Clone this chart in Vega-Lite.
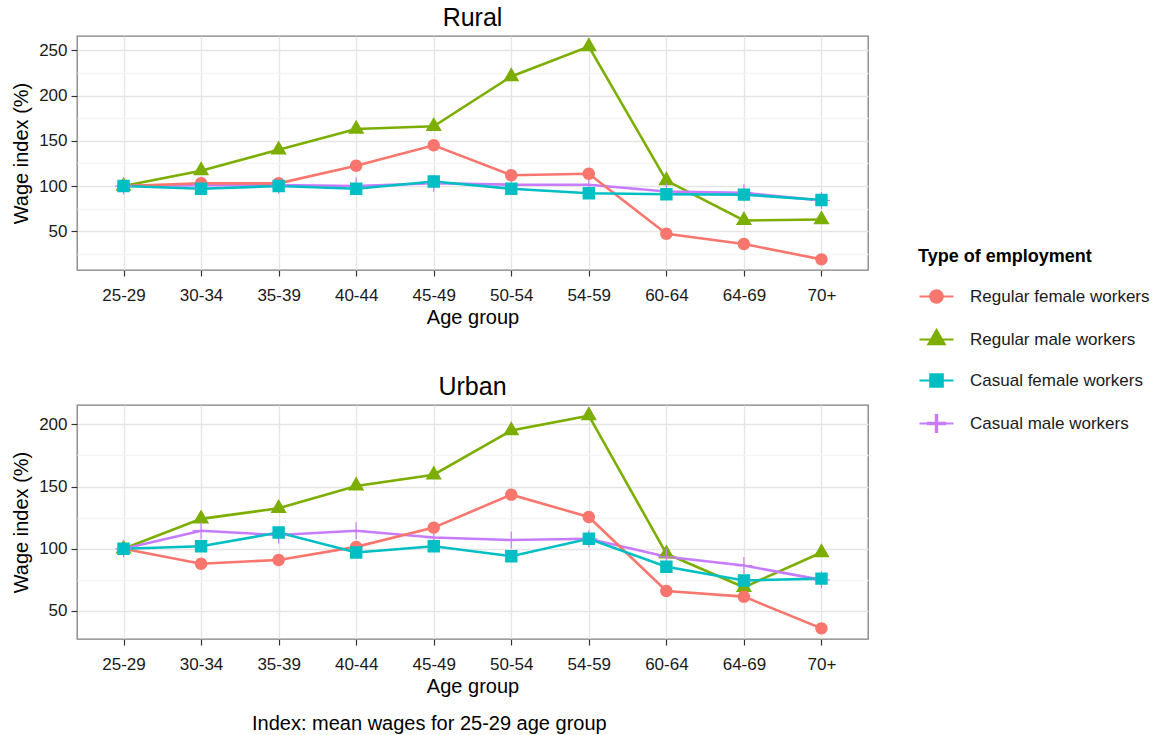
{
  "$schema": "https://vega.github.io/schema/vega-lite/v6.json",
  "padding": {"left": 10, "top": 5, "right": 5, "bottom": 5},
  "background": "white",
  "title": {"text": "Index: mean wages for 25-29 age group", "orient": "bottom", "anchor": "start", "frame": "group", "dx": 175, "offset": 17, "fontSize": 20, "fontWeight": "normal", "color": "#000000"},
  "config": {
    "font": "Liberation Sans",
    "view": {"stroke": "#7f7f7f", "strokeWidth": 1.3},
    "axis": {"domain": false, "grid": true, "gridColor": "#e5e5e5", "gridWidth": 1.3, "tickColor": "#333333", "tickSize": 6, "tickWidth": 1.2, "labelFontSize": 17, "labelColor": "#1a1a1a", "titleFontSize": 20, "titleFontWeight": "normal", "titleColor": "#000000", "labelFont": "Liberation Sans", "titleFont": "Liberation Sans"},
    "title": {"fontSize": 25, "fontWeight": "normal", "offset": 5, "color": "#000000", "anchor": "middle"},
    "legend": {"titleFontSize": 18, "titleFontWeight": "bold", "labelFontSize": 17, "labelColor": "#1a1a1a", "titleColor": "#000000", "labelLimit": 400, "symbolStrokeWidth": 2.2, "symbolOpacity": 1}
  },
  "data": {"values": [
    {"area": "Rural", "type": "Regular male workers", "age": "25-29", "v": 100},
    {"area": "Rural", "type": "Regular male workers", "age": "30-34", "v": 117},
    {"area": "Rural", "type": "Regular male workers", "age": "35-39", "v": 140},
    {"area": "Rural", "type": "Regular male workers", "age": "40-44", "v": 163},
    {"area": "Rural", "type": "Regular male workers", "age": "45-49", "v": 166},
    {"area": "Rural", "type": "Regular male workers", "age": "50-54", "v": 221},
    {"area": "Rural", "type": "Regular male workers", "age": "54-59", "v": 254},
    {"area": "Rural", "type": "Regular male workers", "age": "60-64", "v": 106},
    {"area": "Rural", "type": "Regular male workers", "age": "64-69", "v": 62},
    {"area": "Rural", "type": "Regular male workers", "age": "70+", "v": 63},
    {"area": "Rural", "type": "Casual male workers", "age": "25-29", "v": 100},
    {"area": "Rural", "type": "Casual male workers", "age": "30-34", "v": 101},
    {"area": "Rural", "type": "Casual male workers", "age": "35-39", "v": 101},
    {"area": "Rural", "type": "Casual male workers", "age": "40-44", "v": 100},
    {"area": "Rural", "type": "Casual male workers", "age": "45-49", "v": 103},
    {"area": "Rural", "type": "Casual male workers", "age": "50-54", "v": 101.5},
    {"area": "Rural", "type": "Casual male workers", "age": "54-59", "v": 101.5},
    {"area": "Rural", "type": "Casual male workers", "age": "60-64", "v": 94},
    {"area": "Rural", "type": "Casual male workers", "age": "64-69", "v": 92.5},
    {"area": "Rural", "type": "Casual male workers", "age": "70+", "v": 84},
    {"area": "Rural", "type": "Regular female workers", "age": "25-29", "v": 100},
    {"area": "Rural", "type": "Regular female workers", "age": "30-34", "v": 103},
    {"area": "Rural", "type": "Regular female workers", "age": "35-39", "v": 103},
    {"area": "Rural", "type": "Regular female workers", "age": "40-44", "v": 122.5},
    {"area": "Rural", "type": "Regular female workers", "age": "45-49", "v": 145},
    {"area": "Rural", "type": "Regular female workers", "age": "50-54", "v": 112},
    {"area": "Rural", "type": "Regular female workers", "age": "54-59", "v": 113.5},
    {"area": "Rural", "type": "Regular female workers", "age": "60-64", "v": 47.3},
    {"area": "Rural", "type": "Regular female workers", "age": "64-69", "v": 36},
    {"area": "Rural", "type": "Regular female workers", "age": "70+", "v": 19},
    {"area": "Rural", "type": "Casual female workers", "age": "25-29", "v": 100},
    {"area": "Rural", "type": "Casual female workers", "age": "30-34", "v": 97},
    {"area": "Rural", "type": "Casual female workers", "age": "35-39", "v": 100},
    {"area": "Rural", "type": "Casual female workers", "age": "40-44", "v": 97},
    {"area": "Rural", "type": "Casual female workers", "age": "45-49", "v": 105},
    {"area": "Rural", "type": "Casual female workers", "age": "50-54", "v": 97},
    {"area": "Rural", "type": "Casual female workers", "age": "54-59", "v": 92},
    {"area": "Rural", "type": "Casual female workers", "age": "60-64", "v": 91},
    {"area": "Rural", "type": "Casual female workers", "age": "64-69", "v": 90.5},
    {"area": "Rural", "type": "Casual female workers", "age": "70+", "v": 84.5},
    {"area": "Urban", "type": "Regular male workers", "age": "25-29", "v": 100},
    {"area": "Urban", "type": "Regular male workers", "age": "30-34", "v": 124},
    {"area": "Urban", "type": "Regular male workers", "age": "35-39", "v": 132.5},
    {"area": "Urban", "type": "Regular male workers", "age": "40-44", "v": 150.5},
    {"area": "Urban", "type": "Regular male workers", "age": "45-49", "v": 159.5},
    {"area": "Urban", "type": "Regular male workers", "age": "50-54", "v": 195},
    {"area": "Urban", "type": "Regular male workers", "age": "54-59", "v": 207},
    {"area": "Urban", "type": "Regular male workers", "age": "60-64", "v": 96},
    {"area": "Urban", "type": "Regular male workers", "age": "64-69", "v": 69},
    {"area": "Urban", "type": "Regular male workers", "age": "70+", "v": 97},
    {"area": "Urban", "type": "Casual male workers", "age": "25-29", "v": 100},
    {"area": "Urban", "type": "Casual male workers", "age": "30-34", "v": 114.5},
    {"area": "Urban", "type": "Casual male workers", "age": "35-39", "v": 111},
    {"area": "Urban", "type": "Casual male workers", "age": "40-44", "v": 114.5},
    {"area": "Urban", "type": "Casual male workers", "age": "45-49", "v": 109},
    {"area": "Urban", "type": "Casual male workers", "age": "50-54", "v": 107},
    {"area": "Urban", "type": "Casual male workers", "age": "54-59", "v": 108},
    {"area": "Urban", "type": "Casual male workers", "age": "60-64", "v": 93.5},
    {"area": "Urban", "type": "Casual male workers", "age": "64-69", "v": 86.5},
    {"area": "Urban", "type": "Casual male workers", "age": "70+", "v": 75},
    {"area": "Urban", "type": "Regular female workers", "age": "25-29", "v": 100},
    {"area": "Urban", "type": "Regular female workers", "age": "30-34", "v": 88},
    {"area": "Urban", "type": "Regular female workers", "age": "35-39", "v": 91},
    {"area": "Urban", "type": "Regular female workers", "age": "40-44", "v": 101.5},
    {"area": "Urban", "type": "Regular female workers", "age": "45-49", "v": 117},
    {"area": "Urban", "type": "Regular female workers", "age": "50-54", "v": 143.5},
    {"area": "Urban", "type": "Regular female workers", "age": "54-59", "v": 125.5},
    {"area": "Urban", "type": "Regular female workers", "age": "60-64", "v": 66},
    {"area": "Urban", "type": "Regular female workers", "age": "64-69", "v": 61.5},
    {"area": "Urban", "type": "Regular female workers", "age": "70+", "v": 36},
    {"area": "Urban", "type": "Casual female workers", "age": "25-29", "v": 100},
    {"area": "Urban", "type": "Casual female workers", "age": "30-34", "v": 102},
    {"area": "Urban", "type": "Casual female workers", "age": "35-39", "v": 113},
    {"area": "Urban", "type": "Casual female workers", "age": "40-44", "v": 97},
    {"area": "Urban", "type": "Casual female workers", "age": "45-49", "v": 102},
    {"area": "Urban", "type": "Casual female workers", "age": "50-54", "v": 94},
    {"area": "Urban", "type": "Casual female workers", "age": "54-59", "v": 108},
    {"area": "Urban", "type": "Casual female workers", "age": "60-64", "v": 85.5},
    {"area": "Urban", "type": "Casual female workers", "age": "64-69", "v": 74.5},
    {"area": "Urban", "type": "Casual female workers", "age": "70+", "v": 76}
  ]},
  "spacing": 46,
  "resolve": {"scale": {"x": "independent", "y": "independent"}},
  "vconcat": [
    {
      "title": {"text": "Rural"},
      "width": 791,
      "height": 234,
      "transform": [{"filter": "datum.area === 'Rural'"}],
      "encoding": {
        "x": {"field": "age", "type": "ordinal", "sort": ["25-29", "30-34", "35-39", "40-44", "45-49", "50-54", "54-59", "60-64", "64-69", "70+"], "scale": {"type": "point", "padding": 0.6}, "axis": {"title": "Age group", "labelAngle": 0, "labelPadding": 11, "titlePadding": 4}},
        "y": {"field": "v", "type": "quantitative", "scale": {"domain": [7.25, 265.75], "nice": false, "zero": false}, "axis": {"title": "Wage index (%)", "values": [25, 50, 75, 100, 125, 150, 175, 200, 225, 250], "labelExpr": "datum.value % 50 === 0 ? datum.label : ''", "gridColor": {"condition": {"test": "datum.value % 50 !== 0", "value": "#f5f5f5"}, "value": "#e5e5e5"}, "tickOpacity": {"condition": {"test": "datum.value % 50 !== 0", "value": 0}, "value": 1}, "labelPadding": 4, "titlePadding": 7}}
      },
      "layer": [
        {"mark": {"type": "line", "strokeWidth": 2.6},
         "encoding": {"color": {"field": "type", "type": "nominal", "scale": {"domain": ["Regular female workers", "Regular male workers", "Casual female workers", "Casual male workers"], "range": ["#F8766D", "#7CAE00", "#00BFC4", "#C77CFF"]},
          "legend": {"title": "Type of employment", "orient": "none", "legendX": 841, "legendY": 212, "padding": 0, "titlePadding": 12, "symbolSize": 1156, "rowPadding": 13, "labelOffset": 15}}}},
        {"mark": {"type": "point", "filled": true, "size": 1156, "opacity": 1},
         "encoding": {
           "fill": {"field": "type", "type": "nominal", "title": "Type of employment", "scale": {"domain": ["Regular female workers", "Regular male workers", "Casual female workers", "Casual male workers"], "range": ["#F8766D", "#7CAE00", "#00BFC4", "#C77CFF"]}},
           "shape": {"field": "type", "type": "nominal", "title": "Type of employment", "scale": {"domain": ["Regular female workers", "Regular male workers", "Casual female workers", "Casual male workers"], "range": ["M-1,0H1M-0.365,0A0.365,0.365 0 1,0 0.365,0A0.365,0.365 0 1,0 -0.365,0Z", "M-1,0H1M0,-0.549L0.475,0.274L-0.475,0.274Z", "M-1,0H1M-0.365,-0.365H0.365V0.365H-0.365Z", "M-1,0H1M-0.5,-0.035H0.5V0.035H-0.5ZM-0.035,-0.5H0.035V0.5H-0.035Z"]}}}}
      ]
    },
    {
      "title": {"text": "Urban"},
      "width": 791,
      "height": 234,
      "transform": [{"filter": "datum.area === 'Urban'"}],
      "encoding": {
        "x": {"field": "age", "type": "ordinal", "sort": ["25-29", "30-34", "35-39", "40-44", "45-49", "50-54", "54-59", "60-64", "64-69", "70+"], "scale": {"type": "point", "padding": 0.6}, "axis": {"title": "Age group", "labelAngle": 0, "labelPadding": 11, "titlePadding": 4}},
        "y": {"field": "v", "type": "quantitative", "scale": {"domain": [27.45, 215.55], "nice": false, "zero": false}, "axis": {"title": "Wage index (%)", "values": [50, 75, 100, 125, 150, 175, 200], "labelExpr": "datum.value % 50 === 0 ? datum.label : ''", "gridColor": {"condition": {"test": "datum.value % 50 !== 0", "value": "#f5f5f5"}, "value": "#e5e5e5"}, "tickOpacity": {"condition": {"test": "datum.value % 50 !== 0", "value": 0}, "value": 1}, "labelPadding": 4, "titlePadding": 7}}
      },
      "layer": [
        {"mark": {"type": "line", "strokeWidth": 2.6},
         "encoding": {"color": {"field": "type", "type": "nominal",
          "legend": {"title": "Type of employment", "orient": "none", "legendX": 841, "legendY": 212, "padding": 0, "titlePadding": 12, "symbolSize": 1156, "rowPadding": 13, "labelOffset": 15}}}},
        {"mark": {"type": "point", "filled": true, "size": 1156, "opacity": 1},
         "encoding": {
           "fill": {"field": "type", "type": "nominal", "title": "Type of employment"},
           "shape": {"field": "type", "type": "nominal", "title": "Type of employment"}}}
      ]
    }
  ]
}
